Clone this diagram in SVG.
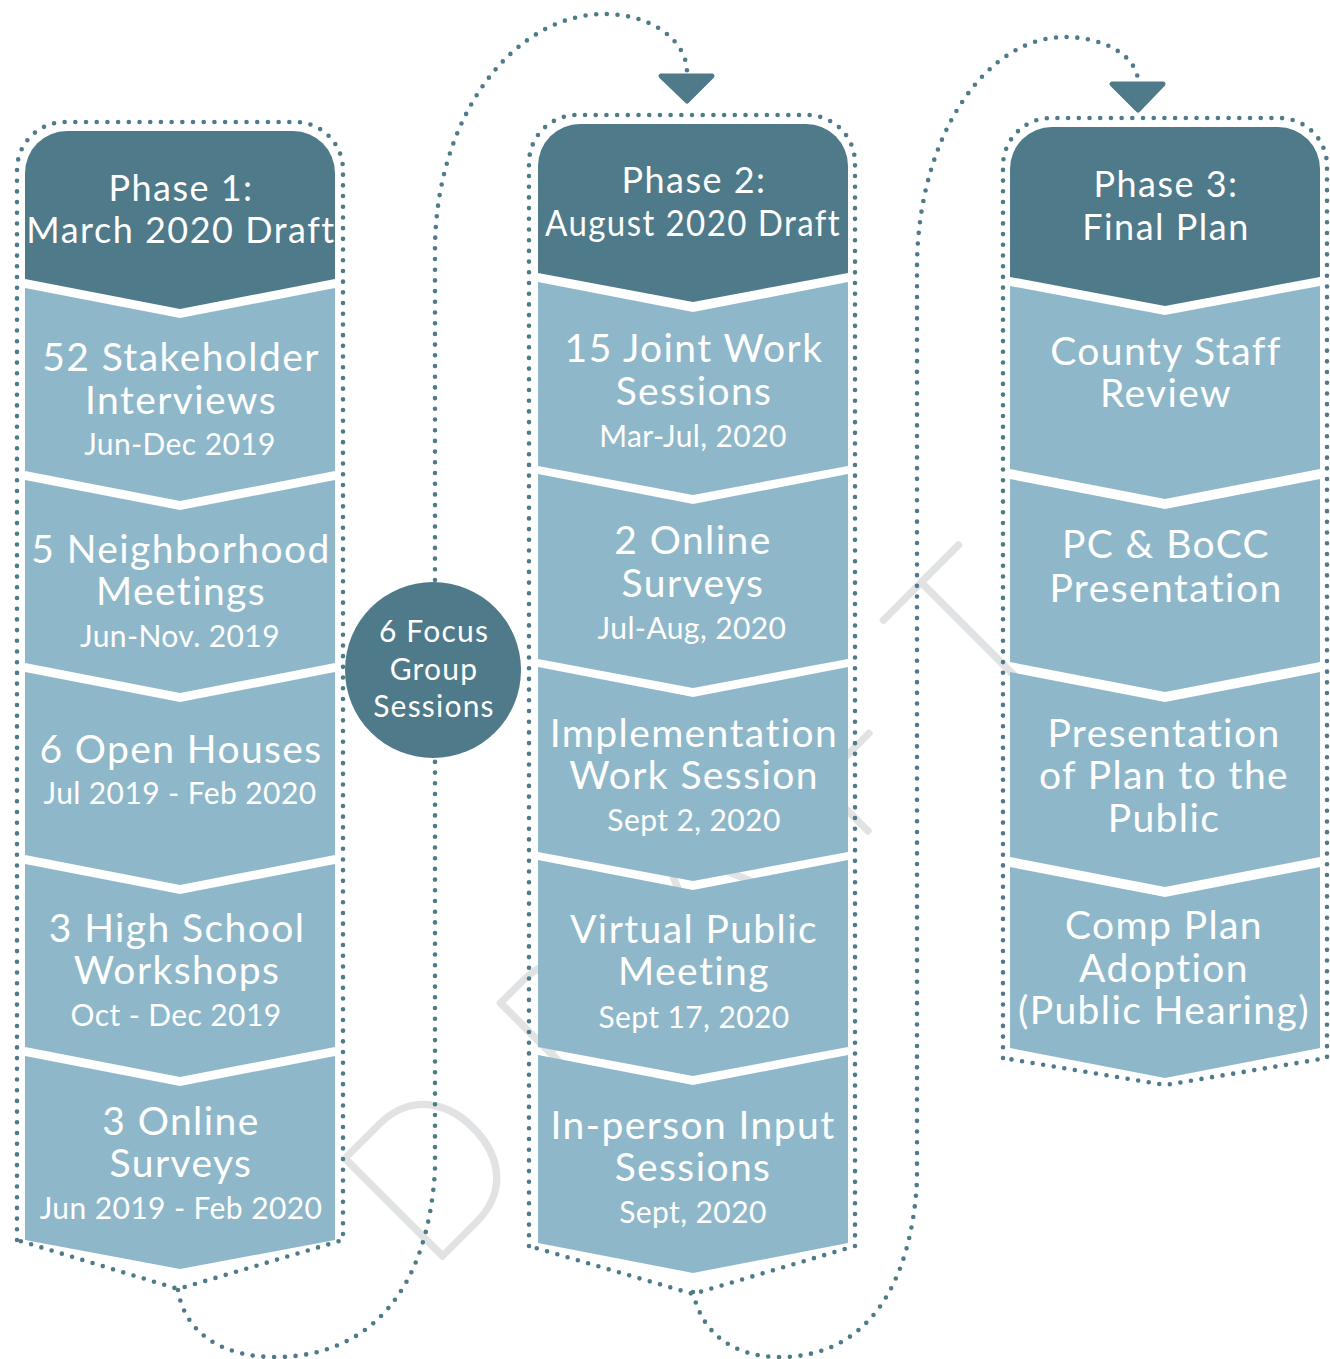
<svg xmlns="http://www.w3.org/2000/svg" width="1330" height="1359" viewBox="0 0 1330 1359">
<style>
.hdr{fill:#4e7a8a}
.box{fill:#8eb8ca}
.dot{fill:none;stroke:#4e7a8a;stroke-width:4.6;stroke-linecap:round;stroke-dasharray:0 10.7}
.t{font-family:Lato,"Liberation Sans",sans-serif;fill:#fff;text-anchor:middle}
.ttl{font-size:36px;letter-spacing:1.5px}
.big{font-size:39px;letter-spacing:1.4px}
.sm{font-size:30px;letter-spacing:0.4px}
.cir{font-size:30px;letter-spacing:1.2px}
.wm{font-family:Lato,"Liberation Sans",sans-serif;font-weight:200;font-size:200px;fill:#e1e2e3;stroke:#e1e2e3;stroke-width:5;stroke-linejoin:round}
.arr{fill:#4e7a8a;stroke:#4e7a8a;stroke-width:5;stroke-linejoin:round}
</style>
<rect width="1330" height="1359" fill="#fff"/>
<text class="wm" transform="translate(426,1274) rotate(-45)" letter-spacing="68">DRAFT</text>

<g id="outlines">
<path class="dot" d="M17,1240 L17,170 A48,48 0 0 1 65,122 L295,122 A48,48 0 0 1 343,170 L343,1240 L178,1289 Z"/>
<path class="dot" d="M529,1246 L529,163 A48,48 0 0 1 577,115 L807,115 A48,48 0 0 1 855,163 L855,1246 L693,1294 Z"/>
<path class="dot" d="M1003,1058 L1003,166 A48,48 0 0 1 1051,118 L1279,118 A48,48 0 0 1 1327,166 L1327,1058 L1165,1085 Z"/>
</g>

<g id="phase1">
<path class="hdr" d="M25,279 L25,173 A42,42 0 0 1 67,131 L293,131 A42,42 0 0 1 335,173 L335,279 L180,309 Z"/>
<text class="t ttl" x="181" y="201">Phase 1:</text>
<text class="t ttl" x="181" y="243">March 2020 Draft</text>
</g>
<g id="p1-stakeholder">
<path class="box" d="M25,288 L180,318 L335,288 L335,471 L180,501 L25,471 Z"/>
<text class="t big" x="181" y="371">52 Stakeholder</text>
<text class="t big" x="181" y="414">Interviews</text>
<text class="t sm" x="180" y="455">Jun-Dec 2019</text>
</g>
<g id="p1-neighborhood">
<path class="box" d="M25,480 L180,510 L335,480 L335,663 L180,693 L25,663 Z"/>
<text class="t big" x="181" y="563">5 Neighborhood</text>
<text class="t big" x="181" y="605">Meetings</text>
<text class="t sm" x="180" y="647">Jun-Nov. 2019</text>
</g>
<g id="p1-openhouses">
<path class="box" d="M25,672 L180,702 L335,672 L335,855 L180,885 L25,855 Z"/>
<text class="t big" x="181" y="763">6 Open Houses</text>
<text class="t sm" x="180" y="804">Jul 2019 - Feb 2020</text>
</g>
<g id="p1-highschool">
<path class="box" d="M25,864 L180,894 L335,864 L335,1047 L180,1077 L25,1047 Z"/>
<text class="t big" x="177" y="942">3 High School</text>
<text class="t big" x="177" y="984">Workshops</text>
<text class="t sm" x="176" y="1026">Oct - Dec 2019</text>
</g>
<g id="p1-surveys">
<path class="box" d="M25,1056 L180,1086 L335,1056 L335,1240 L180,1269 L25,1240 Z"/>
<text class="t big" x="181" y="1135">3 Online</text>
<text class="t big" x="181" y="1177">Surveys</text>
<text class="t sm" x="181" y="1219">Jun 2019 - Feb 2020</text>
</g>

<g id="phase2">
<path class="hdr" d="M538,273 L538,166 A42,42 0 0 1 580,124 L806,124 A42,42 0 0 1 848,166 L848,273 L693,302 Z"/>
<text class="t ttl" x="694" y="193">Phase 2:</text>
<text class="t ttl" x="693" y="236" textLength="296" lengthAdjust="spacingAndGlyphs">August 2020 Draft</text>
</g>
<g id="p2-joint">
<path class="box" d="M538,282 L693,312 L848,282 L848,466 L693,495 L538,466 Z"/>
<text class="t big" x="694" y="362">15 Joint Work</text>
<text class="t big" x="694" y="405">Sessions</text>
<text class="t sm" x="693" y="447">Mar-Jul, 2020</text>
</g>
<g id="p2-surveys">
<path class="box" d="M538,474 L693,504 L848,474 L848,659 L693,688 L538,659 Z"/>
<text class="t big" x="693" y="554">2 Online</text>
<text class="t big" x="693" y="597">Surveys</text>
<text class="t sm" x="692" y="639">Jul-Aug, 2020</text>
</g>
<g id="p2-implementation">
<path class="box" d="M538,667 L693,697 L848,667 L848,852 L693,881 L538,852 Z"/>
<text class="t big" x="694" y="747">Implementation</text>
<text class="t big" x="694" y="789">Work Session</text>
<text class="t sm" x="694" y="831">Sept 2, 2020</text>
</g>
<g id="p2-virtual">
<path class="box" d="M538,860 L693,890 L848,860 L848,1047 L693,1076 L538,1047 Z"/>
<text class="t big" x="694" y="943">Virtual Public</text>
<text class="t big" x="694" y="985">Meeting</text>
<text class="t sm" x="694" y="1028">Sept 17, 2020</text>
</g>
<g id="p2-inperson">
<path class="box" d="M538,1055 L693,1085 L848,1055 L848,1243 L693,1273 L538,1243 Z"/>
<text class="t big" x="693" y="1139">In-person Input</text>
<text class="t big" x="693" y="1181">Sessions</text>
<text class="t sm" x="693" y="1223">Sept, 2020</text>
</g>

<g id="phase3">
<path class="hdr" d="M1010,277 L1010,169 A42,42 0 0 1 1052,127 L1278,127 A42,42 0 0 1 1320,169 L1320,277 L1165,306 Z"/>
<text class="t ttl" x="1166" y="197">Phase 3:</text>
<text class="t ttl" x="1166" y="240">Final Plan</text>
</g>
<g id="p3-staff">
<path class="box" d="M1010,286 L1165,315 L1320,286 L1320,469 L1165,499 L1010,469 Z"/>
<text class="t big" x="1166" y="365">County Staff</text>
<text class="t big" x="1166" y="407">Review</text>
</g>
<g id="p3-pc">
<path class="box" d="M1010,479 L1165,509 L1320,479 L1320,662 L1165,692 L1010,662 Z"/>
<text class="t big" x="1166" y="558">PC &amp; BoCC</text>
<text class="t big" x="1166" y="602">Presentation</text>
</g>
<g id="p3-public">
<path class="box" d="M1010,672 L1165,702 L1320,672 L1320,857 L1165,887 L1010,857 Z"/>
<text class="t big" x="1164" y="747">Presentation</text>
<text class="t big" x="1164" y="789">of Plan to the</text>
<text class="t big" x="1164" y="832">Public</text>
</g>
<g id="p3-adoption">
<path class="box" d="M1010,867 L1165,897 L1320,867 L1320,1048 L1165,1078 L1010,1048 Z"/>
<text class="t big" x="1164" y="939">Comp Plan</text>
<text class="t big" x="1164" y="982">Adoption</text>
<text class="t big" x="1164" y="1024">(Public Hearing)</text>
</g>

<g id="connectors">
<path class="dot" d="M178,1290 C185,1335 225,1357 275,1357 C370,1357 428,1290 435,1170 L435,250 A170,236 0 0 1 605,14 A82,58 0 0 1 687,72"/>
<path class="dot" d="M693,1292 C702,1335 735,1357 780,1357 C870,1357 912,1280 917,1180 L917,268 A148,231 0 0 1 1065,37 A73,45 0 0 1 1138,82"/>
<polygon class="arr" points="661,76 712,76 687,101"/>
<polygon class="arr" points="1112,84 1163,84 1138,110"/>
</g>

<g id="focus-groups">
<circle cx="433" cy="670" r="88" fill="#4e7a8a"/>
<text class="t cir" x="434" y="642">6 Focus</text>
<text class="t cir" x="434" y="680">Group</text>
<text class="t cir" x="434" y="717">Sessions</text>
</g>
</svg>
